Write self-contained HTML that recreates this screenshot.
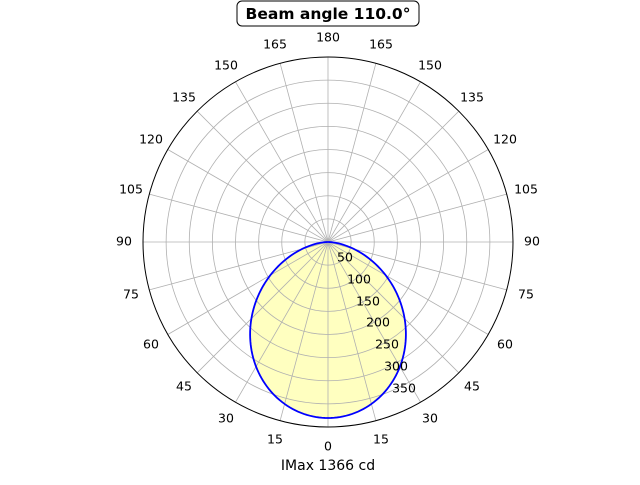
<!DOCTYPE html>
<html><head><meta charset="utf-8"><style>
body{margin:0;background:#fff}
svg text{font-family:"DejaVu Sans","Liberation Sans",sans-serif;font-size:12.5px;fill:#000}
</style></head><body>
<svg id="s" width="640" height="480" viewBox="0 0 640 480" xmlns="http://www.w3.org/2000/svg">
<path id="fill" fill="#ffffc0" stroke="none"/>
<g id="grid"></g>
<path id="curve" fill="none" stroke="blue" stroke-width="1.8"/>
<circle cx="328" cy="242" r="185" fill="none" stroke="#000" stroke-width="1"/>
<g text-anchor="middle" dominant-baseline="central">
<text x="328" y="37">180</text>
<text x="275" y="44">165</text><text x="381" y="44">165</text>
<text x="226" y="65">150</text><text x="430" y="65">150</text>
<text x="184" y="97">135</text><text x="472" y="97">135</text>
<text x="151" y="139">120</text><text x="505" y="139">120</text>
<text x="131" y="189">105</text><text x="526" y="189">105</text>
<text x="124" y="241">90</text><text x="532" y="241">90</text>
<text x="131" y="294">75</text><text x="526" y="294">75</text>
<text x="151" y="344">60</text><text x="505" y="344">60</text>
<text x="184" y="386">45</text><text x="472" y="386">45</text>
<text x="226" y="418">30</text><text x="430" y="418">30</text>
<text x="275" y="439">15</text><text x="381" y="439">15</text>
<text x="328" y="446">0</text>
<text x="345" y="257">50</text>
<text x="359" y="279">100</text>
<text x="368" y="301">150</text>
<text x="378" y="322">200</text>
<text x="387" y="344">250</text>
<text x="396" y="366">300</text>
<text x="404" y="388">350</text>
<text x="328" y="466" style="font-size:14px">IMax 1366 cd</text>
</g>
<rect x="237" y="1" width="182" height="25" rx="5" fill="#fff" stroke="#000" stroke-width="1"/>
<text x="328" y="14" text-anchor="middle" dominant-baseline="central" style="font-size:15.5px;font-weight:bold">Beam angle 110.0°</text>
</svg>
<script>
var cx=328,cy=242,R=185,g=document.getElementById('grid'),h='';
for(var i=1;i<8;i++)h+='<circle cx="'+cx+'" cy="'+cy+'" r="'+(R*i/8)+'" fill="none" stroke="#b0b0b0" stroke-width="0.8"/>';
for(var a=0;a<180;a+=15){var t=a*Math.PI/180;h+='<line x1="'+(cx-R*Math.sin(t))+'" y1="'+(cy-R*Math.cos(t))+'" x2="'+(cx+R*Math.sin(t))+'" y2="'+(cy+R*Math.cos(t))+'" stroke="#b0b0b0" stroke-width="0.8"/>';}
g.innerHTML=h;
var d='';
for(var a=-90;a<=90;a+=1){var t=a*Math.PI/180,c=Math.max(Math.cos(t),0),r=176*Math.pow(c,1.4);d+=(d?'L':'M')+(cx+r*Math.sin(t)).toFixed(2)+' '+(cy+r*Math.cos(t)).toFixed(2);}
document.getElementById('curve').setAttribute('d',d+'Z');
document.getElementById('fill').setAttribute('d',d+'Z');
</script>
</body></html>
